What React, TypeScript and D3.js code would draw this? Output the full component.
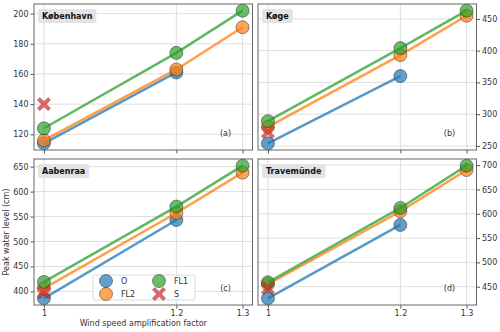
import React, { useEffect, useRef } from "react";
import * as d3 from "d3";

// wind speed amplification factors (x)
const windFactors = [1, 1.2, 1.3];
const xTickLabels = ["1", "1.2", "1.3"];

const stations = ["København", "Køge", "Aabenraa", "Travemünde"];
const panelTags = ["(a)", "(b)", "(c)", "(d)"];
const seriesNames = ["O", "FL2", "FL1", "S"];

// peak water level (cm), one row per station
const valuesO = [
  [114, 161],
  [254, 360],
  [386, 543],
  [426, 577],
];
const valuesFL2 = [
  [116, 163, 191],
  [280, 393, 455],
  [406, 557, 638],
  [455, 605, 690],
];
const valuesFL1 = [
  [124, 174, 202],
  [289, 404, 463],
  [419, 570, 652],
  [459, 612, 699],
];
const valuesS = [140, 272, 398, 447];

const yTickValues = [
  [120, 140, 160, 180, 200],
  [250, 300, 350, 400, 450],
  [400, 450, 500, 550, 600, 650],
  [450, 500, 550, 600, 650, 700],
];

const W = 500, H = 332;
const colLeft = [34, 258];
const rowTop = [4, 159];
const pw = 218.5, ph = 146;
const font = "DejaVu Sans";
const colors = d3.schemeCategory10;

// matplotlib-ish filled "X" marker
const filledX = {
  draw(ctx: any, size: number) {
    const r = Math.sqrt(size) / 2;
    const a = r * 0.38;
    const pts = [
      [0, a], [r - a, r], [r, r - a], [a, 0], [r, -r + a], [r - a, -r],
      [0, -a], [-r + a, -r], [-r, -r + a], [-a, 0], [-r, r - a], [-r + a, r],
    ];
    pts.forEach(([x, y], i) => (i === 0 ? ctx.moveTo(x, y) : ctx.lineTo(x, y)));
    ctx.closePath();
  },
};

function App() {
  const ref = useRef<SVGSVGElement>(null);

  useEffect(() => {
    const svg = d3.select(ref.current);
    svg.selectAll("*").remove();
    svg.append("rect").attr("width", W).attr("height", H).attr("fill", "#fff");

    const circle = d3.symbol().type(d3.symbolCircle).size(Math.PI * 6.5 * 6.5);
    const cross = d3.symbol().type(filledX as any).size(180);

    stations.forEach((name, i) => {
      const col = i % 2, row = Math.floor(i / 2);
      const x0 = colLeft[col], y0 = rowTop[row];
      const g = svg.append("g").attr("transform", `translate(${x0},${y0})`);

      const all = [...valuesO[i], ...valuesFL2[i], ...valuesFL1[i], valuesS[i]];
      const [lo, hi] = d3.extent(all) as [number, number];
      const pad = (hi - lo) * 0.05;
      const y = d3.scaleLinear().domain([lo - pad, hi + pad]).range([ph, 0]);
      const x = d3.scaleLinear().domain([0.985, 1.315]).range([0, pw]);

      // grid
      g.append("g").selectAll("line").data(windFactors).join("line")
        .attr("x1", (d) => x(d)).attr("x2", (d) => x(d))
        .attr("y1", 0).attr("y2", ph)
        .attr("stroke", "#dedede").attr("stroke-width", 1);
      g.append("g").selectAll("line").data(yTickValues[i]).join("line")
        .attr("x1", 0).attr("x2", pw)
        .attr("y1", (d) => y(d)).attr("y2", (d) => y(d))
        .attr("stroke", "#dedede").attr("stroke-width", 1);

      // axes
      const yAxis = col === 0 ? d3.axisLeft(y) : d3.axisRight(y);
      const ya = g.append("g")
        .attr("transform", col === 0 ? "translate(0,0)" : `translate(${pw},0)`)
        .call(yAxis.tickValues(yTickValues[i]).tickSize(3.5).tickPadding(2).tickFormat(d3.format("d")));
      const xa = g.append("g").attr("transform", `translate(0,${ph})`)
        .call(d3.axisBottom(x).tickValues(windFactors).tickSize(3.5).tickPadding(2)
          .tickFormat((d, k) => (row === 1 ? xTickLabels[k] : "")));
      [ya, xa].forEach((a) => {
        a.select(".domain").remove();
        a.selectAll("line").attr("stroke", "#555");
        a.selectAll("text").attr("fill", "#333").attr("font-family", font).attr("font-size", 8);
      });

      const marks = g.append("g");
      const series = [valuesO[i], valuesFL2[i], valuesFL1[i]];
      const line = d3.line<number>().x((_, k) => x(windFactors[k])).y((d) => y(d));
      series.forEach((vals, s) => {
        marks.append("path").datum(vals).attr("d", line)
          .attr("fill", "none").attr("stroke", colors[s])
          .attr("stroke-opacity", 0.75).attr("stroke-width", 2.5);
        marks.selectAll(null).data(vals).join("path")
          .attr("transform", (d, k) => `translate(${x(windFactors[k])},${y(d)})`)
          .attr("d", circle)
          .attr("fill", colors[s]).attr("fill-opacity", 0.7)
          .attr("stroke", "#222").attr("stroke-opacity", 0.6).attr("stroke-width", 0.8);
      });
      marks.append("path")
        .attr("transform", `translate(${x(windFactors[0])},${y(valuesS[i])})`)
        .attr("d", cross)
        .attr("fill", colors[3]).attr("fill-opacity", 0.7)
        .attr("stroke", "#222").attr("stroke-opacity", 0.4).attr("stroke-width", 0.6);

      // frame
      g.append("rect").attr("width", pw).attr("height", ph)
        .attr("fill", "none").attr("stroke", "#666").attr("stroke-width", 1);

      // station label box
      const lab = g.append("g").attr("transform", "translate(4,5)");
      const t = lab.append("text").attr("x", 4).attr("y", 10)
        .attr("font-family", font).attr("font-size", 8).attr("font-weight", "bold")
        .attr("fill", "#111").text(name);
      const bw = (t.node() as SVGTextElement).getComputedTextLength();
      lab.insert("rect", "text").attr("width", bw + 8).attr("height", 14)
        .attr("rx", 2).attr("fill", "#e3e3e3");

      g.append("text").attr("x", pw - 27).attr("y", ph - 14)
        .attr("text-anchor", "middle").attr("font-family", font).attr("font-size", 8)
        .attr("fill", "#333").text(panelTags[i]);

      // legend in panel (c)
      if (i === 2) {
        const lg = g.append("g").attr("transform", "translate(59,116)");
        lg.append("rect").attr("width", 102).attr("height", 25).attr("rx", 2)
          .attr("fill", "#fff").attr("fill-opacity", 0.85)
          .attr("stroke", "#d0d0d0").attr("stroke-width", 0.8);
        seriesNames.forEach((sn, s) => {
          const cx = s < 2 ? 13 : 66, cy = s % 2 === 0 ? 6 : 19;
          lg.append("path").attr("transform", `translate(${cx},${cy})`)
            .attr("d", s === 3 ? cross : circle)
            .attr("fill", colors[s]).attr("fill-opacity", 0.7)
            .attr("stroke", "#222").attr("stroke-opacity", s === 3 ? 0.4 : 0.6)
            .attr("stroke-width", s === 3 ? 0.6 : 0.8);
          lg.append("text").attr("x", cx + 15).attr("y", cy + 3)
            .attr("font-family", font).attr("font-size", 8).attr("fill", "#333").text(sn);
        });
      }
    });

    svg.append("text")
      .attr("transform", `translate(9,${rowTop[1] + ph / 2}) rotate(-90)`)
      .attr("text-anchor", "middle").attr("font-family", font).attr("font-size", 8)
      .attr("fill", "#333").text("Peak water level (cm)");
    svg.append("text")
      .attr("x", colLeft[0] + pw / 2).attr("y", 326)
      .attr("text-anchor", "middle").attr("font-family", font).attr("font-size", 8)
      .attr("fill", "#333").text("Wind speed amplification factor");
  }, []);

  return (
    <svg ref={ref} width={W} height={H}
      style={{ position: "absolute", left: 0, top: 0, display: "block" }} />
  );
}

export default App;
